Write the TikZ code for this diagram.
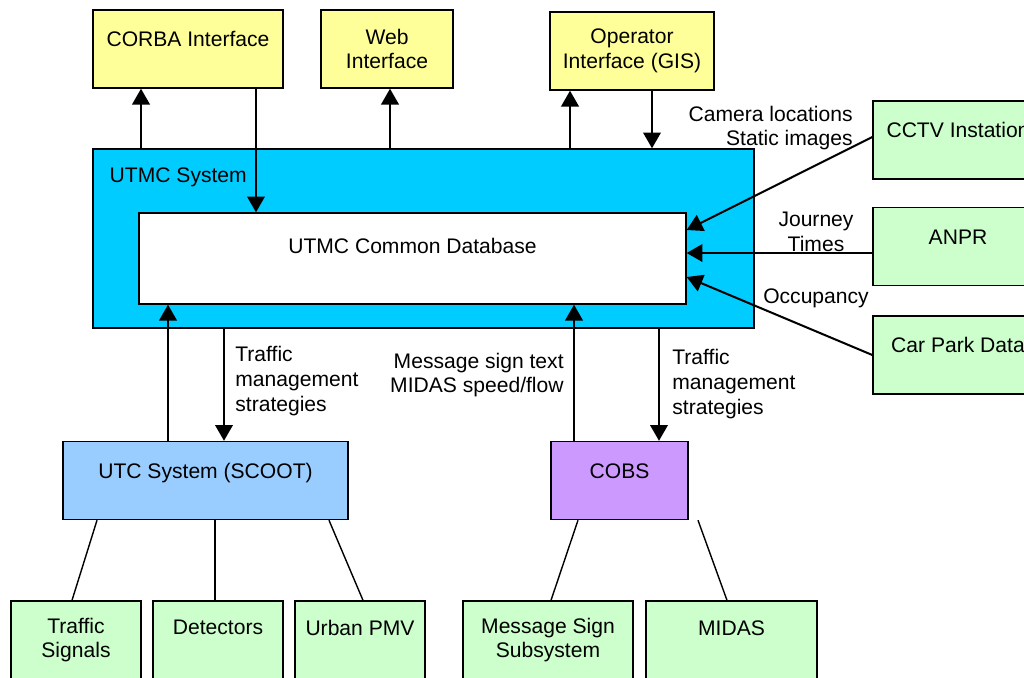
\documentclass[tikz,border=0pt]{standalone}
\usepackage{fontspec}
\setmainfont{Liberation Sans}
\usetikzlibrary{arrows.meta}
\definecolor{ifaceyellow}{HTML}{FFFF99}
\definecolor{utmccyan}{HTML}{00CCFF}
\definecolor{utcblue}{HTML}{99CCFF}
\definecolor{cobspurple}{HTML}{CC99FF}
\definecolor{devgreen}{HTML}{CCFFCC}
\tikzset{box/.style={draw, line width=0.8pt, rectangle, align=center,
         inner sep=0pt, minimum height=1.56cm, minimum width=#1},
         box/.default={2.6cm},
         iface/.style={box=#1, fill=ifaceyellow},
         device/.style={box=#1, fill=devgreen},
         note/.style={inner sep=0pt},
         flow/.style={line width=1.15pt, -{Triangle[length=9pt,width=10pt]}},
         link/.style={line width=0.8pt}}

\begin{document}
\begin{tikzpicture}[x=0.02cm, y=-0.02cm, font=\fontsize{12pt}{14pt}\selectfont]
  \useasboundingbox (0,0) rectangle (1024,677);
  \clip (0,0) rectangle (1024,677);

  % interfaces on top
  \node[iface=3.8cm] (corba) at (188,49) {CORBA Interface\\[-3pt]~};
  \node[iface=2.64cm] (web) at (387,49) {Web\\Interface};
  \node[iface=3.28cm] (gis) at (632,51) {Operator\\Interface (GIS)};

  % central system and its database
  \node[box=13.22cm, minimum height=3.58cm, fill=utmccyan] (utmc) at (423.5,238.5) {};
  \node[note, anchor=west] (utmctitle) at ([xshift=0.34cm, yshift=-0.58cm]utmc.north west) {UTMC System};
  \node[box=10.94cm, minimum height=1.82cm, fill=white] (db) at (412.5,258.5) {UTMC Common Database\\~};

  % data sources on the right
  \node[device=3.4cm] (cctv) at (958,140) {CCTV Instation\\[-3pt]~};
  \node[device=3.4cm] (anpr) at (958,246.5) {ANPR\\[-3pt]~};
  \node[device=3.4cm] (carpark) at (958,355) {Car Park Data\\[-3pt]~};

  % subsystems below
  \node[box=5.7cm, fill=utcblue] (utc) at (205.5,480.5) {UTC System (SCOOT)\\[-3pt]~};
  \node[box=2.74cm, fill=cobspurple] (cobs) at (619.5,480.5) {COBS\\[-3pt]~};

  \begin{scope}[every node/.append style={minimum height=1.64cm}]
    \node[device] (signals) at (76,640) {Traffic\\Signals};
    \node[device] (detectors) at (218,640) {Detectors\\~};
    \node[device] (pmv) at (360,640) {Urban PMV\\~};
    \node[device=3.4cm] (msgsign) at (548,640) {Message Sign\\Subsystem};
    \node[device=3.42cm] (midas) at (731.5,640) {MIDAS\\~};
  \end{scope}

  % top arrows
  \draw[flow] ([xshift=-0.94cm]corba.south |- utmc.north) -- ([xshift=-0.94cm]corba.south);
  \draw[flow] ([xshift=1.36cm]corba.south) -- ([xshift=1.36cm]corba.south |- db.north);
  \draw[flow] ([xshift=0.06cm]web.south |- utmc.north) -- ([xshift=0.06cm]web.south);
  \draw[flow] ([xshift=-1.24cm]gis.south |- utmc.north) -- ([xshift=-1.24cm]gis.south);
  \draw[flow] ([xshift=0.4cm]gis.south) -- ([xshift=0.4cm]gis.south |- utmc.north);

  % right hand feeds
  \draw[flow] ([yshift=0.06cm]cctv.west) -- ([yshift=0.57cm]db.east);
  \draw[flow] ([yshift=-0.13cm]anpr.west) -- ([yshift=-0.13cm]anpr.west -| db.east);
  \draw[flow] (carpark.west) -- ([yshift=-0.37cm]db.east);
  \node[note, anchor=east, align=right] (camnote) at (853,128) {Camera locations\\Static images};
  \node[note, align=center] (jtnote) at (816,232) {Journey\\Times};
  \node[note] (occnote) at (816,298) {Occupancy};

  % arrows to and from the subsystems
  \draw[flow] ([xshift=-0.75cm]utc.north) -- ([xshift=-0.75cm]utc.north |- db.south);
  \draw[flow] ([xshift=0.37cm]utc.north |- utmc.south) -- ([xshift=0.37cm]utc.north);
  \draw[flow] ([xshift=-0.91cm]cobs.north) -- ([xshift=-0.91cm]cobs.north |- db.south);
  \draw[flow] ([xshift=0.79cm]cobs.north |- utmc.south) -- ([xshift=0.79cm]cobs.north);
  \node[note, anchor=west, align=left] (utcnote) at (235,381) {Traffic\\management\\strategies};
  \node[note, anchor=east, align=right] (msgnote) at (564,375) {Message sign text\\MIDAS speed/flow};
  \node[note, anchor=west, align=left] (cobsnote) at (672,384) {Traffic\\management\\strategies};

  % field devices
  \draw[link] ([xshift=-2.17cm]utc.south) -- ([xshift=-0.08cm]signals.north);
  \draw[link] ([xshift=-0.06cm]detectors.north |- utc.south) -- ([xshift=-0.06cm]detectors.north);
  \draw[link] ([xshift=2.47cm]utc.south) -- ([xshift=0.06cm]pmv.north);
  \draw[link] ([xshift=-0.83cm]cobs.south) -- ([xshift=0.06cm]msgsign.north);
  \draw[link] ([xshift=1.57cm]cobs.south) -- ([xshift=-0.09cm]midas.north);
\end{tikzpicture}
\end{document}
